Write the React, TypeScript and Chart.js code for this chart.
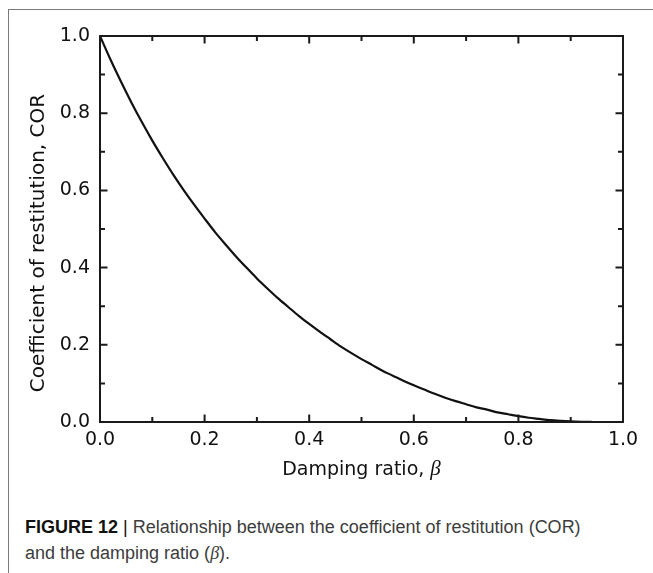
import React, { useEffect, useRef } from "react";
import { Chart, registerables } from "chart.js";

Chart.register(...registerables);

const betaValues = [
  0, 0.02, 0.04, 0.06, 0.08, 0.1, 0.12, 0.14, 0.16, 0.18, 0.2, 0.22, 0.24, 0.26, 0.28, 0.3,
  0.32, 0.34, 0.36, 0.38, 0.4, 0.42, 0.44, 0.46, 0.48, 0.5, 0.52, 0.54, 0.56, 0.58, 0.6,
  0.62, 0.64, 0.66, 0.68, 0.7, 0.72, 0.74, 0.76, 0.78, 0.8, 0.82, 0.84, 0.86, 0.88, 0.9,
  0.92, 0.94,
];
const corValues = [
  1.0, 0.939, 0.882, 0.828, 0.777, 0.729, 0.684, 0.641, 0.601, 0.563, 0.527, 0.492, 0.46,
  0.429, 0.4, 0.372, 0.346, 0.321, 0.298, 0.275, 0.254, 0.234, 0.215, 0.196, 0.179, 0.163,
  0.148, 0.133, 0.12, 0.107, 0.095, 0.084, 0.073, 0.063, 0.054, 0.046, 0.038, 0.032, 0.025,
  0.02, 0.015, 0.011, 0.008, 0.005, 0.003, 0.0015, 0.0006, 0.0002,
];
const xTickValues = [0, 0.2, 0.4, 0.6, 0.8, 1.0];
const yTickValues = [0, 0.2, 0.4, 0.6, 0.8, 1.0];
const xTitleText = "Damping ratio, ";
const xTitleSymbol = "β";
const yTitle = "Coefficient of restitution, COR";

const AXIS_FONT = "'DejaVu Sans', 'Liberation Sans', Arial, sans-serif";
const SYMBOL_FONT = "'Liberation Serif', 'DejaVu Serif', serif";
const CAPTION_FONT = "'Liberation Sans', Arial, Helvetica, sans-serif";

const frameAndTitlesPlugin = {
  id: "frameAndTitles",
  afterDraw(chart: any) {
    const { ctx, chartArea } = chart;
    const xs = chart.scales.x;
    const ys = chart.scales.y;
    const { left, right, top, bottom } = chartArea;
    ctx.save();
    // plot frame
    ctx.strokeStyle = "#1a1a1a";
    ctx.lineWidth = 2;
    ctx.lineCap = "butt";
    ctx.strokeRect(left, top, right - left, bottom - top);
    // inner ticks, mirrored on all four sides
    const major = 7.5;
    const minor = 5;
    for (let i = 0; i < xTickValues.length; i++) {
      const v = xTickValues[i];
      const px = xs.getPixelForValue(v);
      if (i > 0 && i < xTickValues.length - 1) {
        ctx.beginPath();
        ctx.moveTo(px, bottom);
        ctx.lineTo(px, bottom - major);
        ctx.moveTo(px, top);
        ctx.lineTo(px, top + major);
        ctx.stroke();
      }
      if (i < xTickValues.length - 1) {
        const mp = xs.getPixelForValue((v + xTickValues[i + 1]) / 2);
        ctx.beginPath();
        ctx.moveTo(mp, bottom);
        ctx.lineTo(mp, bottom - minor);
        ctx.moveTo(mp, top);
        ctx.lineTo(mp, top + minor);
        ctx.stroke();
      }
    }
    for (let i = 0; i < yTickValues.length; i++) {
      const v = yTickValues[i];
      const py = ys.getPixelForValue(v);
      if (i > 0 && i < yTickValues.length - 1) {
        ctx.beginPath();
        ctx.moveTo(left, py);
        ctx.lineTo(left + major, py);
        ctx.moveTo(right, py);
        ctx.lineTo(right - major, py);
        ctx.stroke();
      }
      if (i < yTickValues.length - 1) {
        const mp = ys.getPixelForValue((v + yTickValues[i + 1]) / 2);
        ctx.beginPath();
        ctx.moveTo(left, mp);
        ctx.lineTo(left + minor, mp);
        ctx.moveTo(right, mp);
        ctx.lineTo(right - minor, mp);
        ctx.stroke();
      }
    }

    // x axis title: sans text + italic serif symbol
    ctx.fillStyle = "#111111";
    ctx.textBaseline = "alphabetic";
    ctx.textAlign = "left";
    const mainFont = `19px ${AXIS_FONT}`;
    const symFont = `italic 21px ${SYMBOL_FONT}`;
    ctx.font = mainFont;
    const w1 = ctx.measureText(xTitleText).width;
    ctx.font = symFont;
    const w2 = ctx.measureText(xTitleSymbol).width;
    const cx = (left + right) / 2;
    const startX = cx - (w1 + w2) / 2;
    const baseY = bottom + 53;
    ctx.font = mainFont;
    ctx.fillText(xTitleText, startX, baseY);
    ctx.font = symFont;
    ctx.fillText(xTitleSymbol, startX + w1, baseY);

    // y axis title, rotated
    ctx.save();
    ctx.translate(left - 56, top + 207);
    ctx.rotate(-Math.PI / 2);
    ctx.font = `20px ${AXIS_FONT}`;
    ctx.textAlign = "center";
    ctx.textBaseline = "alphabetic";
    ctx.fillText(yTitle, 0, 0);
    ctx.restore();

    ctx.restore();
  },
};

export default function App() {
  const canvasRef = useRef<HTMLCanvasElement | null>(null);

  useEffect(() => {
    const canvas = canvasRef.current;
    if (!canvas) return;
    const points = betaValues.map((b, i) => ({ x: b, y: corValues[i] }));
    const chart = new Chart(canvas, {
      type: "scatter",
      data: {
        datasets: [
          {
            data: points,
            showLine: true,
            borderColor: "#111111",
            borderWidth: 2.2,
            pointRadius: 0,
            tension: 0.3,
            fill: false,
          },
        ],
      },
      options: {
        responsive: false,
        animation: false,
        devicePixelRatio: 1,
        layout: { padding: { left: 0, right: 30, top: 36, bottom: 0 } },
        plugins: {
          legend: { display: false },
          tooltip: { enabled: false },
        },
        scales: {
          x: {
            type: "linear",
            min: 0,
            max: 1,
            border: { display: false },
            grid: { display: false, drawTicks: false },
            afterBuildTicks: (scale: any) => {
              scale.ticks = xTickValues.map((v) => ({ value: v }));
            },
            afterFit: (scale: any) => {
              scale.height = 68;
            },
            ticks: {
              padding: 7,
              color: "#111111",
              font: { family: AXIS_FONT, size: 19 },
              maxRotation: 0,
              autoSkip: false,
              callback: (v: any) => Number(v).toFixed(1),
            },
            title: { display: false },
          },
          y: {
            type: "linear",
            min: 0,
            max: 1,
            border: { display: false },
            grid: { display: false, drawTicks: false },
            afterBuildTicks: (scale: any) => {
              scale.ticks = yTickValues.map((v) => ({ value: v }));
            },
            afterFit: (scale: any) => {
              scale.width = 100;
            },
            ticks: {
              padding: 10,
              color: "#111111",
              font: { family: AXIS_FONT, size: 19 },
              autoSkip: false,
              callback: (v: any) => Number(v).toFixed(1),
            },
            title: { display: false },
          },
        },
      },
      plugins: [frameAndTitlesPlugin],
    });
    return () => chart.destroy();
  }, []);

  return (
    <div style={{ position: "absolute", left: 0, top: 0, width: 653, height: 573, overflow: "hidden", background: "#fff" }}>
      <div
        style={{
          position: "absolute",
          left: 8,
          top: 9,
          width: 645,
          height: 564,
          boxSizing: "border-box",
          borderTop: "1px solid #7a7a7a",
          borderLeft: "1px solid #7a7a7a",
        }}
      />
      <canvas
        ref={canvasRef}
        width={653}
        height={490}
        style={{ position: "absolute", left: 0, top: 0, width: 653, height: 490 }}
      />
      <div
        style={{
          position: "absolute",
          left: 25,
          top: 514,
          width: 625,
          fontFamily: CAPTION_FONT,
          fontSize: 18,
          lineHeight: "26px",
          color: "#3c3c3c",
          whiteSpace: "nowrap",
        }}
      >
        <span style={{ fontWeight: "bold", color: "#111" }}>FIGURE 12</span>
        <span style={{ color: "#111" }}> | </span>
        Relationship between the coefficient of restitution (COR)
        <br />
        and the damping ratio (<i style={{ fontFamily: "'Liberation Serif', serif" }}>β</i>).
      </div>
    </div>
  );
}
